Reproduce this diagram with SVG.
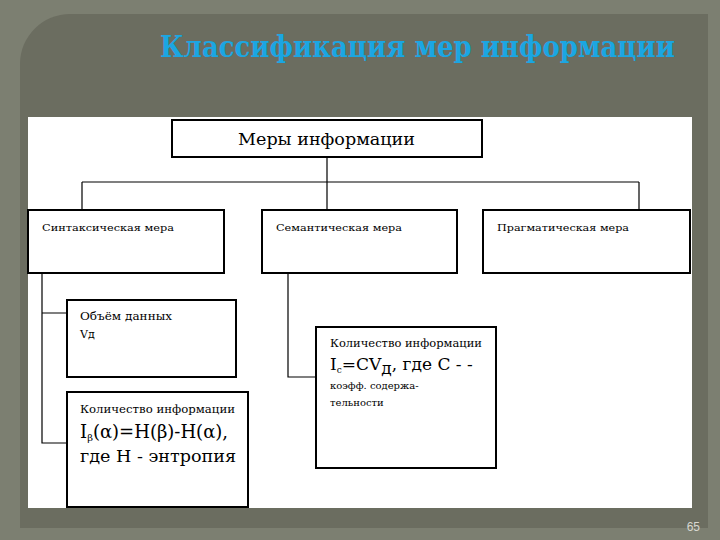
<svg xmlns="http://www.w3.org/2000/svg" width="720" height="540" viewBox="0 0 720 540">
<style>
.b{fill:#fff;stroke:#000;stroke-width:2}
text.t{font-family:'DejaVu Serif','Liberation Serif',serif;fill:#000}
.c{fill:none;stroke:#000;stroke-width:1.2}
</style>
<rect width="720" height="540" fill="#7c7f71"/>
<path d="M70 14 H708 V528 H20 V64 A50 50 0 0 1 70 14 Z" fill="#6b6d60"/>
<text x="160" y="57" textLength="515" lengthAdjust="spacingAndGlyphs" font-family="'DejaVu Serif',serif" font-weight="bold" font-size="30" fill="#1ba6e2">Классификация мер информации</text>
<rect x="28" y="117" width="664" height="391" fill="#fff"/>
<g id="connectors" class="c">
<path d="M327 157 V182 M82 182 H639 M82 182 V210 M327 182 V210 M639 182 V210"/>
<path d="M42 273 V443 H67 M42 313 H67"/>
<path d="M288 273 V377 H316"/>
</g>
<g id="n-top"><rect class="b" x="172" y="120" width="310" height="37"/><text class="t" x="238" y="145" font-size="16" textLength="177" lengthAdjust="spacingAndGlyphs">Меры информации</text></g>
<g id="n-syn"><rect class="b" x="28" y="210" width="196" height="63" stroke-width="1.2"/><text class="t" x="42" y="231" font-size="10" textLength="132" lengthAdjust="spacingAndGlyphs">Синтаксическая мера</text></g>
<g id="n-sem"><rect class="b" x="262" y="210" width="195" height="63" stroke-width="1.2"/><text class="t" x="276" y="231" font-size="10" textLength="126" lengthAdjust="spacingAndGlyphs">Семантическая мера</text></g>
<g id="n-prag"><rect class="b" x="483" y="210" width="207" height="63" stroke-width="1.2"/><text class="t" x="497" y="231" font-size="10" textLength="132" lengthAdjust="spacingAndGlyphs">Прагматическая мера</text></g>
<g id="n-vol"><rect class="b" x="67" y="300" width="169" height="77"/><text class="t" x="80" y="320" font-size="11" textLength="92" lengthAdjust="spacingAndGlyphs">Объём данных</text><text class="t" x="80" y="338" font-size="11">Vд</text></g>
<g id="n-qty1"><rect class="b" x="67" y="392" width="181" height="115"/><text class="t" x="80" y="413" font-size="11" textLength="155" lengthAdjust="spacingAndGlyphs">Количество информации</text><text class="t" x="80" y="438" font-size="18">I<tspan font-size="10" dy="3">β</tspan><tspan dy="-3">(α)=H(β)-H(α),</tspan></text><text class="t" x="80" y="462" font-size="16" textLength="156" lengthAdjust="spacingAndGlyphs">где Н - энтропия</text></g>
<g id="n-qty2"><rect class="b" x="316" y="327" width="180" height="141"/><text class="t" x="330" y="347" font-size="11" textLength="152" lengthAdjust="spacingAndGlyphs">Количество информации</text><text class="t" x="330" y="370" font-size="17">I<tspan font-size="9" dy="3">c</tspan><tspan dy="-3">=CV</tspan><tspan dy="4">д</tspan><tspan dy="-4">, где С - -</tspan></text><text class="t" x="330" y="389" font-size="10">коэфф. содержа-</text><text class="t" x="330" y="406" font-size="10">тельности</text></g>
<text x="700" y="531" text-anchor="end" font-family="'Liberation Sans',sans-serif" font-size="12" fill="#d8d8d0">65</text>
</svg>
